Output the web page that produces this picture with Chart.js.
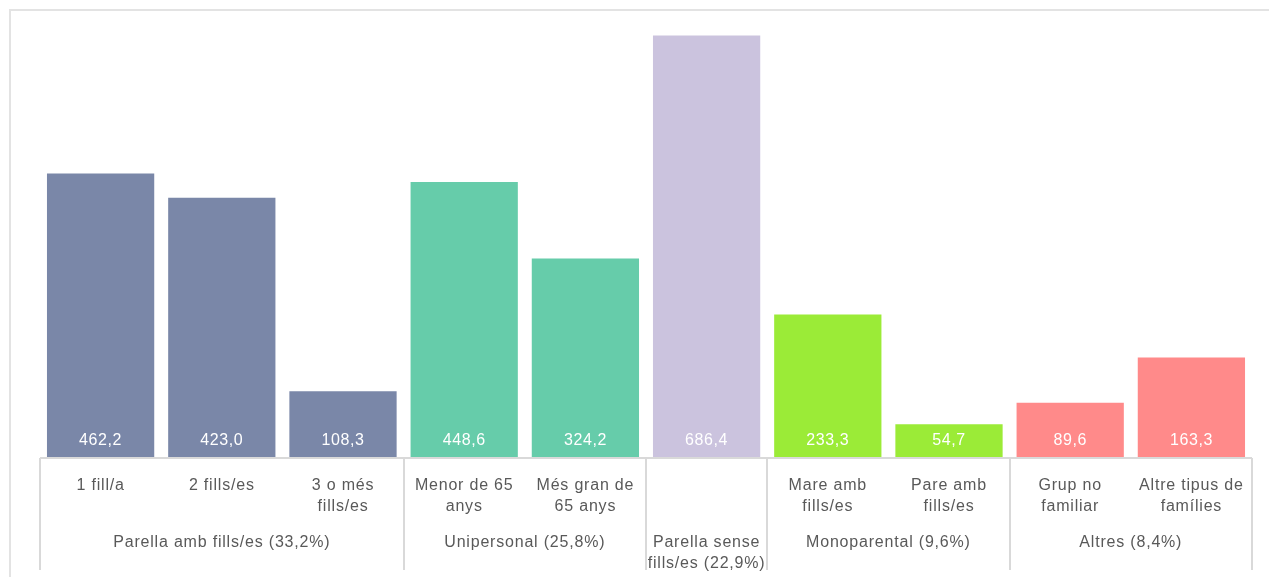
<!DOCTYPE html>
<html>
<head>
<meta charset="utf-8">
<script src="https://cdn.jsdelivr.net/npm/chart.js@4"></script>
<style>
  html, body { margin: 0; padding: 0; background: #fff; overflow: hidden; }
  #frame { position: absolute; left: 9px; top: 9px; width: 2000px; height: 2000px; border: 2px solid #e3e3e3; }
  #wrap { position: absolute; left: 0; top: 0; width: 1269px; height: 577px; }
</style>
</head>
<body>
<div id="frame"></div>
<div id="wrap"><canvas id="c" width="1269" height="577"></canvas></div>
<script>
const categories = [
  ["1 fill/a"], ["2 fills/es"], ["3 o més", "fills/es"],
  ["Menor de 65", "anys"], ["Més gran de", "65 anys"],
  [""],
  ["Mare amb", "fills/es"], ["Pare amb", "fills/es"],
  ["Grup no", "familiar"], ["Altre tipus de", "famílies"]
];
const values = [462.2, 423.0, 108.3, 448.6, 324.2, 686.4, 233.3, 54.7, 89.6, 163.3];
const valueLabels = ["462,2", "423,0", "108,3", "448,6", "324,2", "686,4", "233,3", "54,7", "89,6", "163,3"];
const groupNames = [
  ["Parella amb fills/es (33,2%)"],
  ["Unipersonal (25,8%)"],
  ["Parella sense", "fills/es (22,9%)"],
  ["Monoparental (9,6%)"],
  ["Altres (8,4%)"]
];
const groupSizes = [3, 2, 1, 2, 2];
const groupColors = ["#7A87A8", "#66CCAA", "#CBC3DE", "#9BEB37", "#FF8A8A"];

const barColors = [];
groupSizes.forEach((n, g) => { for (let i = 0; i < n; i++) barColors.push(groupColors[g]); });

const FONT = "'Liberation Sans', Arial, sans-serif";
const GRID = "#d9d9d9";
const TEXT = "#595959";

const multiAxis = {
  id: 'multiAxis',
  afterDatasetsDraw(chart) {
    const ctx = chart.ctx;
    const x = chart.scales.x;
    const area = chart.chartArea;
    const meta = chart.getDatasetMeta(0);
    const n = categories.length;
    const step = (area.right - area.left) / n;
    const base = area.bottom;
    ctx.save();
    // value labels
    ctx.fillStyle = "#ffffff";
    ctx.font = "16px " + FONT;
    ctx.letterSpacing = "0.6px";
    ctx.textAlign = "center";
    ctx.textBaseline = "middle";
    meta.data.forEach((bar, i) => {
      ctx.fillText(valueLabels[i], bar.x, base - 17);
    });
    // axis line
    ctx.strokeStyle = GRID;
    ctx.lineWidth = 2;
    ctx.beginPath();
    ctx.moveTo(area.left, base);
    ctx.lineTo(area.right, base);
    ctx.stroke();
    // separators
    let idx = 0;
    const bounds = [0];
    groupSizes.forEach(s => { idx += s; bounds.push(idx); });
    bounds.forEach(b => {
      const px = Math.round(area.left + b * step);
      ctx.beginPath();
      ctx.moveTo(px, base);
      ctx.lineTo(px, base + 112);
      ctx.stroke();
    });
    // category labels
    ctx.fillStyle = TEXT;
    ctx.font = "16px " + FONT;
    ctx.letterSpacing = "0.8px";
    categories.forEach((lines, i) => {
      const cx = x.getPixelForValue(i);
      lines.forEach((t, j) => ctx.fillText(t, cx, base + 28 + j * 21));
    });
    // group labels
    groupNames.forEach((lines, g) => {
      const cx = area.left + (bounds[g] + bounds[g + 1]) / 2 * step;
      lines.forEach((t, j) => ctx.fillText(t, cx, base + 85 + j * 21));
    });
    ctx.restore();
  }
};

new Chart(document.getElementById('c'), {
  type: 'bar',
  data: {
    labels: categories.map(l => l.join(' ')),
    datasets: [{
      data: values,
      backgroundColor: barColors,
      borderWidth: 0,
      barPercentage: 0.885,
      categoryPercentage: 1.0
    }]
  },
  options: {
    responsive: false,
    animation: false,
    devicePixelRatio: 1,
    layout: { padding: { left: 40, right: 17, top: 29, bottom: 119 } },
    plugins: { legend: { display: false }, tooltip: { enabled: false } },
    scales: {
      x: { display: false },
      y: { display: false, min: 0, max: 697 }
    }
  },
  plugins: [multiAxis]
});
</script>
</body>
</html>
